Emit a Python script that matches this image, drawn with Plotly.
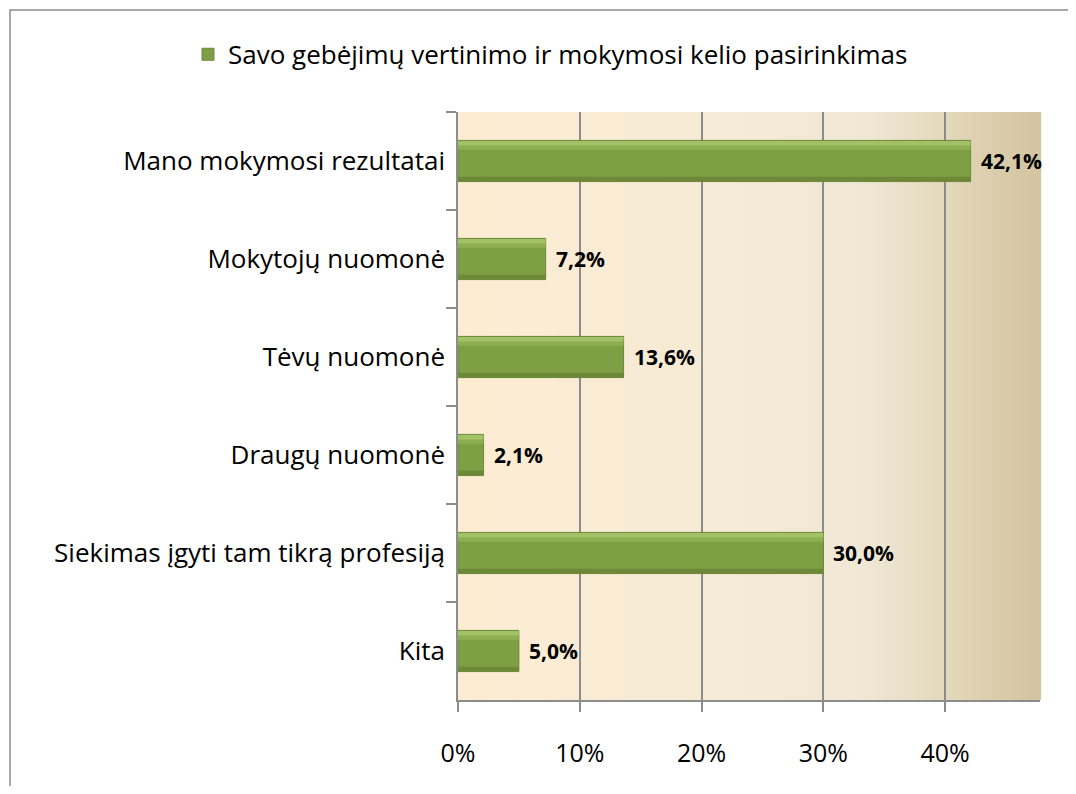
import plotly.graph_objects as go

categories = ["Mano mokymosi rezultatai", "Mokytojų nuomonė", "Tėvų nuomonė",
              "Draugų nuomonė", "Siekimas įgyti tam tikrą profesiją", "Kita"]
values = [0.421, 0.072, 0.136, 0.021, 0.300, 0.050]
series_name = "Savo gebėjimų vertinimo ir mokymosi kelio pasirinkimas"
x_ticks = [0, 0.1, 0.2, 0.3, 0.4]

FONT = "Open Sans"
W, H = 1060, 778
L, R, T, B = 450, 28, 104, 86
PW, PH = W - L - R, H - T - B

fig = go.Figure()
fig.add_trace(go.Bar(
    y=categories, x=values, orientation="h", name=series_name,
    width=0.42, offset=-0.21,
    marker=dict(color="#7F9F45", line=dict(color="#6A8838", width=1)),
    showlegend=True, hoverinfo="x+y",
))
# bevel highlights (same data)
fig.add_trace(go.Bar(
    y=categories, x=values, orientation="h", width=0.05, offset=-0.205,
    marker=dict(color="#A3C166", line=dict(width=0)), showlegend=False, hoverinfo="skip",
))
fig.add_trace(go.Bar(
    y=categories, x=values, orientation="h", width=0.04, offset=-0.155,
    marker=dict(color="#8EAE52", line=dict(width=0)), showlegend=False, hoverinfo="skip",
))
fig.add_trace(go.Bar(
    y=categories, x=values, orientation="h", width=0.045, offset=0.16,
    marker=dict(color="#6C8838", line=dict(width=0)), showlegend=False, hoverinfo="skip",
))

annotations = [dict(x=v, y=c, xref="x", yref="y", text="<b>%s%%</b>" % ("%.1f" % (v * 100)).replace(".", ","),
                    showarrow=False, xanchor="left", xshift=8,
                    font=dict(family=FONT, size=21, color="#000000"))
               for c, v in zip(categories, values)]

# background gradient (cream -> tan)
def lerp(c1, c2, t):
    return tuple(round(a + (b - a) * t) for a, b in zip(c1, c2))

stops = [(0.0, (253, 236, 210)), (0.45, (246, 235, 214)), (0.70, (240, 232, 213)),
         (0.85, (226, 215, 186)), (1.0, (211, 195, 158))]
shapes = []
N = 60
for i in range(N):
    t = (i + 0.5) / N
    for j in range(len(stops) - 1):
        if stops[j][0] <= t <= stops[j + 1][0]:
            u = (t - stops[j][0]) / (stops[j + 1][0] - stops[j][0])
            c = lerp(stops[j][1], stops[j + 1][1], u)
            break
    shapes.append(dict(type="rect", xref="x domain", yref="y domain",
                       x0=i / N, x1=(i + 1) / N + 0.002, y0=0, y1=1,
                       fillcolor="rgb(%d,%d,%d)" % c, line=dict(width=0), layer="below"))
# outer border
shapes.append(dict(type="rect", xref="paper", yref="paper",
                   x0=(2 - L) / PW, x1=(W + 20 - L) / PW,
                   y0=-(B + 20) / PH, y1=1 + (T - 2) / PH,
                   line=dict(color="#8C8C8C", width=1.5), fillcolor="rgba(0,0,0,0)"))

fig.update_layout(
    width=W, height=H,
    margin=dict(l=L, r=R, t=T, b=B),
    paper_bgcolor="white", plot_bgcolor="rgba(0,0,0,0)",
    separators=",.",
    barmode="overlay",
    font=dict(family=FONT, size=26, color="#000000"),
    shapes=shapes, annotations=annotations,
    legend=dict(orientation="h", x=(180 - L) / PW, xanchor="left", y=1.138, yanchor="top",
                font=dict(family=FONT, size=26, color="#000000"),
                bgcolor="rgba(0,0,0,0)", itemwidth=30),
    xaxis=dict(range=[0, 0.478], tickvals=x_ticks, tickformat=".0%",
               showgrid=True, gridcolor="#8C8C8C", gridwidth=1.5,
               ticks="outside", ticklen=10, tickcolor="#8C8C8C", tickwidth=1.5,
               showline=True, linecolor="#8C8C8C", linewidth=1.5,
               zeroline=False, tickfont=dict(size=25), ticklabelstandoff=20),
    yaxis=dict(autorange="reversed", type="category", tickson="boundaries",
               ticks="outside", ticklen=10, tickcolor="#8C8C8C", tickwidth=1.5,
               showline=True, linecolor="#8C8C8C", linewidth=1.5,
               showgrid=False, tickfont=dict(size=26), ticklabelstandoff=6),
)

fig.write_html("out.html")
